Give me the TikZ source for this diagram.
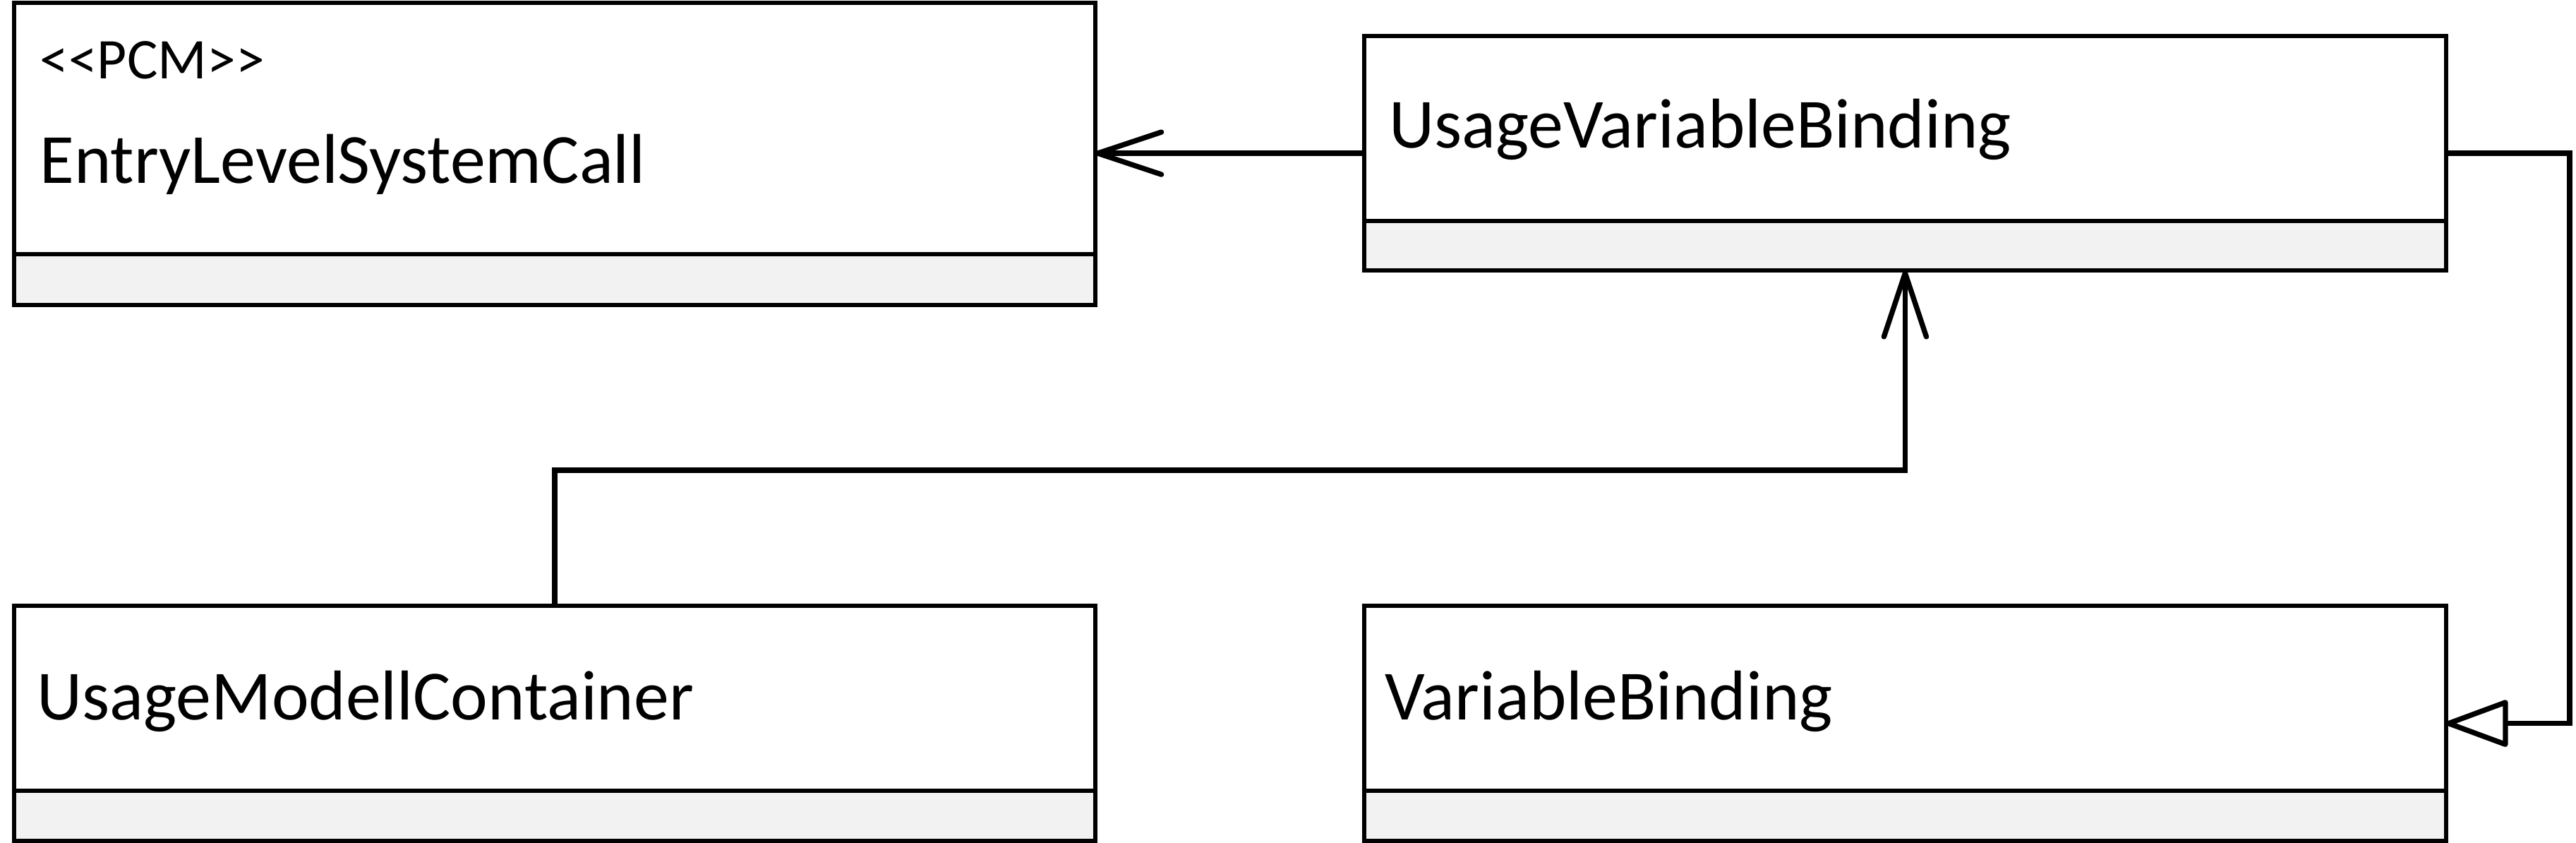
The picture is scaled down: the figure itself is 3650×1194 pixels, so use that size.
\documentclass[tikz,border=0pt]{standalone}
\usepackage{fontspec}
\setmainfont{Carlito}
\usetikzlibrary{arrows.meta}
\definecolor{attrgray}{HTML}{F2F2F2}
\tikzset{
 classframe/.style={draw=black, fill=white, line width=1.6pt, inner sep=0pt, outer sep=0pt, anchor=north west},
 attrbox/.style={draw=black, fill=attrgray, line width=1.6pt, inner sep=0pt, outer sep=0pt, anchor=south west},
 classname/.style={font=\fontsize{28.4}{32}\selectfont, inner sep=0pt, anchor=base west},
 stereo/.style={font=\fontsize{23.2}{26}\selectfont, inner sep=0pt, anchor=base west},
 conn/.style={line width=2.1pt, line join=miter},
 assoc/.style={conn, -{Straight Barb[length=0.9cm, width=0.6cm, round]}},
 gener/.style={conn, -{Triangle[open, length=0.95cm, width=0.68cm, round, fill=white]}},
}
\begin{document}
\begin{tikzpicture}[x=0.01cm, y=-0.01cm]
\useasboundingbox (0,0) rectangle (3650,1194);
% classes
\node[classframe, minimum width=15.31cm, minimum height=4.28cm] (A) at (20,4) {};
\node[attrbox, minimum width=15.31cm, minimum height=0.72cm] (Aattr) at (A.south west) {};
\node[classframe, minimum width=15.32cm, minimum height=3.32cm] (B) at (1933,51) {};
\node[attrbox, minimum width=15.32cm, minimum height=0.70cm] (Battr) at (B.south west) {};
\node[classframe, minimum width=15.31cm, minimum height=3.33cm] (C) at (20,858) {};
\node[attrbox, minimum width=15.31cm, minimum height=0.71cm] (Cattr) at (C.south west) {};
\node[classframe, minimum width=15.32cm, minimum height=3.33cm] (D) at (1933,858) {};
\node[attrbox, minimum width=15.32cm, minimum height=0.71cm] (Dattr) at (D.south west) {};
% texts
\node[stereo] (Astereo) at (56,112) {<{}<PCM>{}>};
\node[classname] (Aname) at (56,260) {EntryLevelSystemCall};
\node[classname] (Bname) at (1968,210) {UsageVariableBinding};
\node[classname] (Cname) at (52,1019) {UsageModellContainer};
\node[classname] (Dname) at (1962,1019) {VariableBinding};
% connectors
\coordinate (bend) at (0,666);
\draw[assoc] (B.west) -- (B.west -| A.east);
\draw[assoc] (C.north) -- (C.north |- bend) -| (B.south);
\draw[gener] (B.east) -- ++(175,0) |- (D.east);
\end{tikzpicture}
\end{document}
